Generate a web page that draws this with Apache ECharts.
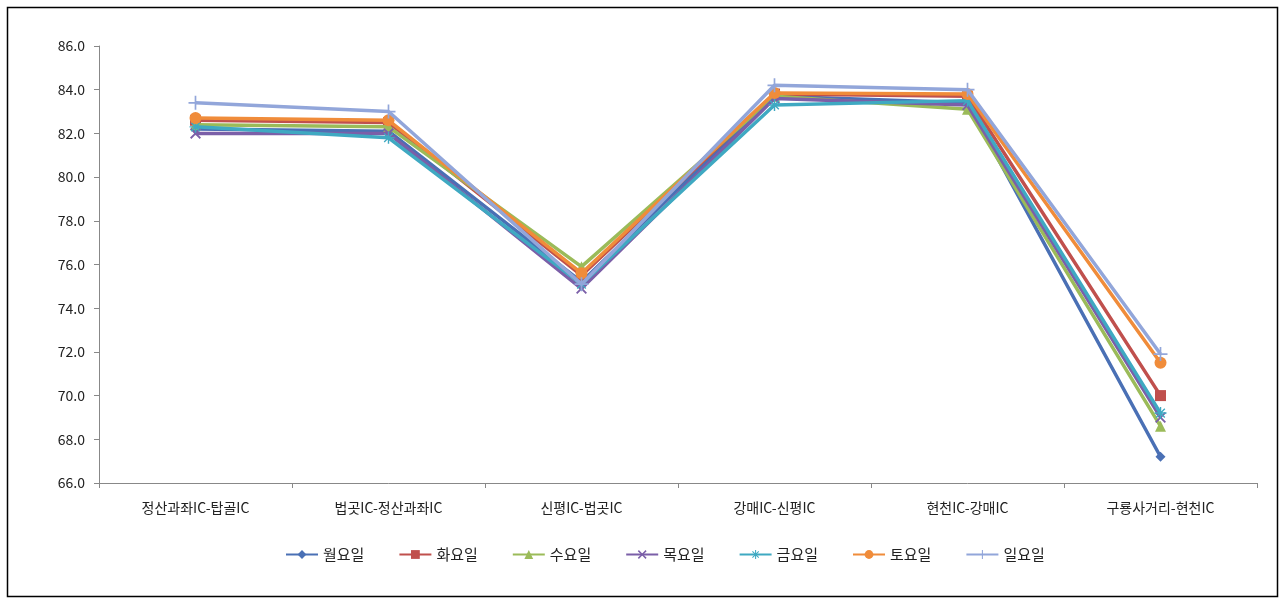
<!DOCTYPE html>
<html><head><meta charset="utf-8">
<script src="https://cdn.jsdelivr.net/npm/echarts@6/dist/echarts.min.js"></script>
<style>html,body{margin:0;padding:0;background:#fff}#c{width:1285px;height:600px}</style>
</head><body><div id="c"></div>
<script>
const categories = ['정산과좌IC-탑골IC','법곳IC-정산과좌IC','신평IC-법곳IC','강매IC-신평IC','현천IC-강매IC','구룡사거리-현천IC'];
const seriesNames = ['월요일','화요일','수요일','목요일','금요일','토요일','일요일'];
const mon = [82.2, 82.1, 75.2, 83.7, 83.4, 67.2];
const tue = [82.6, 82.5, 75.5, 83.8, 83.7, 70.0];
const wed = [82.4, 82.3, 75.9, 83.7, 83.1, 68.6];
const thu = [82.0, 82.0, 74.9, 83.6, 83.3, 69.0];
const fri = [82.3, 81.8, 75.1, 83.3, 83.5, 69.2];
const sat = [82.7, 82.6, 75.6, 83.85, 83.8, 71.5];
const sun = [83.4, 83.0, 75.1, 84.2, 84.0, 71.9];
const yTicks = {min: 66, max: 86, interval: 2};

const colors = ['#4A70B5','#C0504D','#9BBB59','#7B5FA8','#3FA9C2','#F08C3A','#92A6DA'];
const X = 'path://M0,1.2 L1.2,0 L5,3.8 L8.8,0 L10,1.2 L6.2,5 L10,8.8 L8.8,10 L5,6.2 L1.2,10 L0,8.8 L3.8,5 Z';
const PLUS = 'path://M4.4,0 H5.6 V4.4 H10 V5.6 H5.6 V10 H4.4 V5.6 H0 V4.4 H4.4 Z';
const STAR = 'path://M4.4,0 H5.6 V4.4 H10 V5.6 H5.6 V10 H4.4 V5.6 H0 V4.4 H4.4 Z M1,1.8 L1.8,1 L9,8.2 L8.2,9 Z M8.2,1 L9,1.8 L1.8,9 L1,8.2 Z';
const symbols = ['diamond','rect','triangle',X,STAR,'circle',PLUS];
const sizes = [10,11,11,11,12,12,14];
const dataArr = [mon,tue,wed,thu,fri,sat,sun];

const chart = echarts.init(document.getElementById('c'));
const FONT = '"Noto Sans CJK KR", "Noto Sans", sans-serif';
chart.setOption({
  animation: false,
  color: colors,
  textStyle: {fontFamily: FONT},
  graphic: [{type:'rect', shape:{x:7.5,y:7.5,width:1270,height:589}, style:{fill:'none', stroke:'#000', lineWidth:1.5}, silent:true}],
  grid: {left: 99, right: 28, top: 46, bottom: 117},
  legend: {
    bottom: 33, left: 280, itemWidth: 32, itemHeight: 11, itemGap: 34,
    textStyle: {fontSize: 15, color: '#222', fontFamily: FONT},
    data: seriesNames
  },
  xAxis: {
    type: 'category', data: categories, boundaryGap: true,
    axisLine: {lineStyle: {color: '#888'}},
    axisTick: {show: true, alignWithLabel: false, length: 5, lineStyle: {color: '#888'}},
    axisLabel: {fontSize: 14, color: '#222', margin: 18, fontFamily: FONT}
  },
  yAxis: {
    type: 'value', min: yTicks.min, max: yTicks.max, interval: yTicks.interval,
    axisLine: {show: true, lineStyle: {color: '#888'}},
    axisTick: {show: true, length: 5, lineStyle: {color: '#888'}},
    splitLine: {show: false},
    axisLabel: {fontSize: 14, color: '#222', margin: 14, formatter: v => v.toFixed(1), fontFamily: FONT}
  },
  series: seriesNames.map((n, i) => ({
    name: n, type: 'line', data: dataArr[i],
    symbol: symbols[i], symbolSize: sizes[i], showAllSymbol: true,
    lineStyle: {width: 3.5, color: colors[i]},
    itemStyle: {color: colors[i]},
    z: 2 + i
  }))
});
</script></body></html>
